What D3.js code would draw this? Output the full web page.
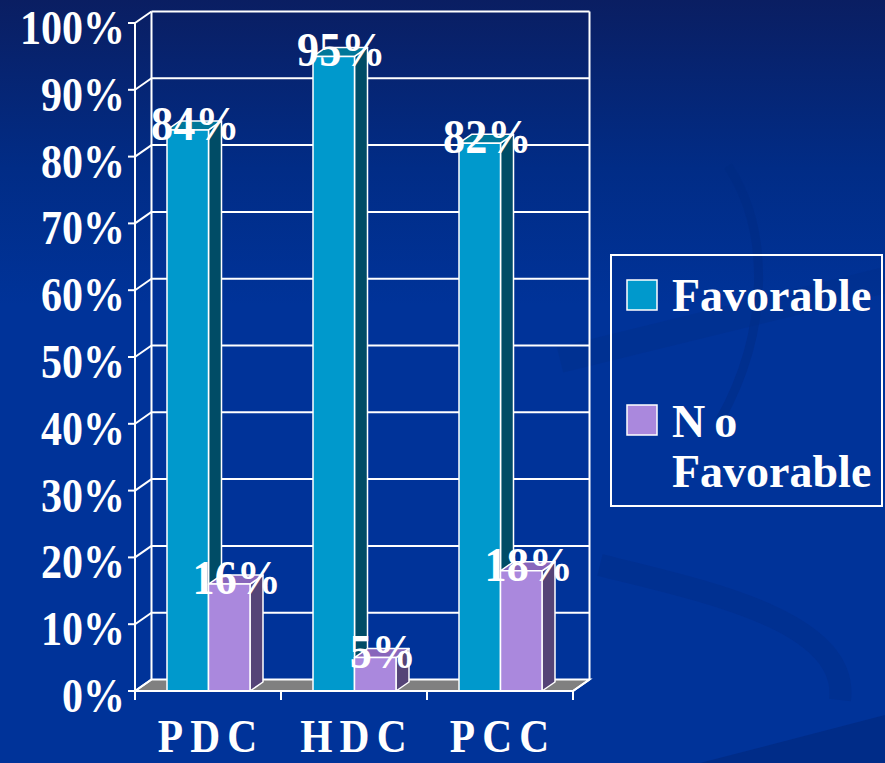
<!DOCTYPE html>
<html>
<head>
<meta charset="utf-8">
<script src="https://cdn.jsdelivr.net/npm/d3@7"></script>
<style>
  html, body { margin: 0; padding: 0; background: #003399; }
  svg { display: block; }
</style>
</head>
<body>
<svg id="chart" width="885" height="763"></svg>
<script>
// ---- Data ----
const categories = ["PDC", "HDC", "PCC"];
const seriesNames = ["Favorable", "No Favorable"];
const favorable = [0.84, 0.95, 0.82];
const noFavorable = [0.16, 0.05, 0.18];
const dataLabels = [["84%", "95%", "82%"], ["16%", "5%", "18%"]];
const yTicks = [0, 0.1, 0.2, 0.3, 0.4, 0.5, 0.6, 0.7, 0.8, 0.9, 1.0];
const yTickLabels = ["0%", "10%", "20%", "30%", "40%", "50%", "60%", "70%", "80%", "90%", "100%"];

const seriesValues = [favorable, noFavorable];
const faceColors = [
  { front: "#0099cc", side: "#004c66", top: "#007799" },
  { front: "#aa88dd", side: "#554477", top: "#8866bb" }
];

const svg = d3.select("#chart");
const W = 885, H = 763;
const FONT = "'Liberation Serif', 'Times New Roman', serif";

// ---- Background ----
const defs = svg.append("defs");
const bg = defs.append("linearGradient").attr("id", "bg").attr("x1", 0).attr("y1", 0).attr("x2", 0).attr("y2", 1);
bg.append("stop").attr("offset", "0%").attr("stop-color", "#0a1e62");
bg.append("stop").attr("offset", "22%").attr("stop-color", "#012c86");
bg.append("stop").attr("offset", "40%").attr("stop-color", "#003399");
bg.append("stop").attr("offset", "100%").attr("stop-color", "#003399");
svg.append("rect").attr("width", W).attr("height", H).attr("fill", "url(#bg)");

// subtle swooshes
const sw = svg.append("g").attr("fill", "none");
sw.append("path").attr("d", "M728,166 C770,230 770,330 720,420")
  .attr("stroke", "#002a80").attr("stroke-width", 9).attr("opacity", 0.45);
sw.append("path").attr("d", "M560,360 C680,330 800,300 885,280")
  .attr("stroke", "#002d88").attr("stroke-width", 26).attr("opacity", 0.35);
sw.append("path").attr("d", "M600,565 C700,590 850,620 840,700")
  .attr("stroke", "#002d88").attr("stroke-width", 22).attr("opacity", 0.45);
svg.append("path").attr("d", "M700,763 L885,715 L885,763 Z").attr("fill", "#002a80").attr("opacity", 0.7);

// ---- Scales ----
const frontLeft = 135, frontRight = 573;
const y = d3.scaleLinear().domain([0, 1]).range([691, 23]);
const x = d3.scaleBand().domain(categories).range([frontLeft, frontRight]).padding(0);
const xInner = d3.scaleBand().domain(seriesNames).range([32, 115]).padding(0);
const DX = 16.5, DY = -11.5;       // wall depth
const BDX = 13, BDY = -9;          // bar depth

const g = svg.append("g");
const white = "#ffffff";

// ---- Floor ----
g.append("path")
  .attr("d", `M${frontLeft},${y(0)} L${frontLeft + DX},${y(0) + DY} L${frontRight + DX},${y(0) + DY} L${frontRight},${y(0)} Z`)
  .attr("fill", "#808080").attr("stroke", white).attr("stroke-width", 2);

// ---- Back wall gridlines ----
yTicks.forEach(t => {
  if (t > 0) {
    g.append("line")
      .attr("x1", frontLeft + DX).attr("x2", frontRight + DX)
      .attr("y1", y(t) + DY).attr("y2", y(t) + DY)
      .attr("stroke", white).attr("stroke-width", 2);
  }
  g.append("line")
    .attr("x1", frontLeft).attr("y1", y(t))
    .attr("x2", frontLeft + DX).attr("y2", y(t) + DY)
    .attr("stroke", white).attr("stroke-width", 2);
});
g.append("line").attr("x1", frontLeft + DX).attr("x2", frontLeft + DX)
  .attr("y1", y(1) + DY).attr("y2", y(0) + DY).attr("stroke", white).attr("stroke-width", 2);
g.append("line").attr("x1", frontRight + DX).attr("x2", frontRight + DX)
  .attr("y1", y(1) + DY).attr("y2", y(0) + DY).attr("stroke", white).attr("stroke-width", 2);

// ---- Bars ----
categories.forEach((c, ci) => {
  seriesNames.forEach((s, si) => {
    const v = seriesValues[si][ci];
    const x0 = x(c) + xInner(s);
    const x1 = x0 + xInner.bandwidth();
    const top = y(v), base = y(0);
    const col = faceColors[si];
    const bg2 = g.append("g").attr("stroke", white).attr("stroke-width", 1.5).attr("stroke-linejoin", "round");
    bg2.append("path")
      .attr("d", `M${x1},${base} L${x1 + BDX},${base + BDY} L${x1 + BDX},${top + BDY} L${x1},${top} Z`)
      .attr("fill", col.side);
    bg2.append("path")
      .attr("d", `M${x0},${top} L${x0 + BDX},${top + BDY} L${x1 + BDX},${top + BDY} L${x1},${top} Z`)
      .attr("fill", col.top);
    bg2.append("rect")
      .attr("x", x0).attr("y", top).attr("width", x1 - x0).attr("height", base - top)
      .attr("fill", col.front);
  });
});

// text helper
function label(sel, str, px, py, fs, sx, anchor, extra) {
  const t = sel.append("text")
    .attr("transform", `translate(${px},${py}) scale(${sx},1)`)
    .attr("font-family", FONT).attr("font-weight", "bold")
    .attr("font-size", fs).attr("fill", white)
    .attr("text-anchor", anchor)
    .text(str);
  if (extra) extra(t);
  return t;
}

// ---- Data labels ----
categories.forEach((c, ci) => {
  seriesNames.forEach((s, si) => {
    const v = seriesValues[si][ci];
    const cx = x(c) + xInner(s) + xInner.bandwidth() / 2 + BDX / 2 + 1;
    label(g, dataLabels[si][ci], cx, y(v) + 10, 48, 0.92, "middle");
  });
});

// ---- Front axes ----
g.append("line").attr("x1", frontLeft).attr("x2", frontLeft)
  .attr("y1", y(1)).attr("y2", y(0) + 9).attr("stroke", white).attr("stroke-width", 2);
g.append("line").attr("x1", frontLeft).attr("x2", frontRight)
  .attr("y1", y(0)).attr("y2", y(0)).attr("stroke", white).attr("stroke-width", 2);
g.append("line").attr("x1", frontRight).attr("x2", frontRight + DX)
  .attr("y1", y(0)).attr("y2", y(0) + DY).attr("stroke", white).attr("stroke-width", 2);
yTicks.forEach((t, i) => {
  g.append("line").attr("x1", frontLeft - 7).attr("x2", frontLeft)
    .attr("y1", y(t)).attr("y2", y(t)).attr("stroke", white).attr("stroke-width", 2);
  label(g, yTickLabels[i], 125, y(t) + 21, 48, 0.875, "end");
});
[...categories.map(c => x(c)), frontRight].forEach(px => {
  g.append("line").attr("x1", px).attr("x2", px)
    .attr("y1", y(0)).attr("y2", y(0) + 9).attr("stroke", white).attr("stroke-width", 2);
});
categories.forEach(c => {
  label(g, c, x(c) + x.bandwidth() / 2 + 3, 752, 46, 0.9, "middle",
    t => t.attr("letter-spacing", 8));
});

// ---- Legend ----
const lg = svg.append("g");
lg.append("rect").attr("x", 611).attr("y", 255).attr("width", 271).attr("height", 251)
  .attr("fill", "none").attr("stroke", white).attr("stroke-width", 2);
const legendRows = [
  { lines: ["Favorable"], sy: 280, ty: 311 },
  { lines: ["No", "Favorable"], sy: 405, ty: 437 }
];
legendRows.forEach((r, i) => {
  lg.append("rect").attr("x", 627).attr("y", r.sy).attr("width", 30).attr("height", 30)
    .attr("fill", faceColors[i].front).attr("stroke", white).attr("stroke-width", 1.5);
  r.lines.forEach((ln, j) => {
    label(lg, ln, 672, r.ty + j * 50, 46, 1, "start",
      t => t.attr("letter-spacing", ln === "No" ? 9 : 0));
  });
});
</script>
</body>
</html>
